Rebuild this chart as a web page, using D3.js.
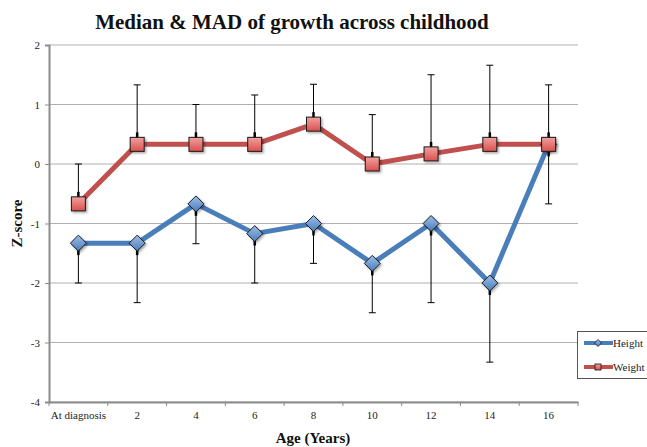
<!DOCTYPE html>
<html>
<head>
<meta charset="utf-8">
<script src="https://cdn.jsdelivr.net/npm/d3@7"></script>
<style>
html,body{margin:0;padding:0;background:#fff;}
svg{display:block;}
</style>
</head>
<body>
<svg id="chart" width="647" height="447"></svg>
<script>
const categories = ["At diagnosis","2","4","6","8","10","12","14","16"];
const heightMedian = [-1.33,-1.33,-0.67,-1.17,-1.0,-1.67,-1.0,-2.0,0.33];
const heightMAD    = [0.67,1.0,0.67,0.83,0.67,0.83,1.33,1.33,1.0];
const weightMedian = [-0.67,0.33,0.33,0.33,0.67,0.0,0.17,0.33,0.33];
const weightMAD    = [0.67,1.0,0.67,0.83,0.67,0.83,1.33,1.33,1.0];
const yTicks = [-4,-3,-2,-1,0,1,2];

const svg = d3.select("#chart");
const serif = "'Liberation Serif','DejaVu Serif',serif";
const L = 49, R = 578, T = 45, B = 402;

const x = d3.scaleBand().domain(categories).range([L, R]).padding(0);
const y = d3.scaleLinear().domain([-4, 2]).range([B, T]);
const cx = c => x(c) + x.bandwidth() / 2;

const defs = svg.append("defs");
const sh = defs.append("filter").attr("id","shadow").attr("x","-50%").attr("y","-50%").attr("width","200%").attr("height","200%");
sh.append("feDropShadow").attr("dx",1.5).attr("dy",1.5).attr("stdDeviation",1).attr("flood-color","#000").attr("flood-opacity",0.35);
const gb = defs.append("linearGradient").attr("id","gBlue").attr("x1",0).attr("y1",0).attr("x2",0).attr("y2",1);
gb.append("stop").attr("offset","0%").attr("stop-color","#9dbde6");
gb.append("stop").attr("offset","100%").attr("stop-color","#4a7ebb");
const gr = defs.append("linearGradient").attr("id","gRed").attr("x1",0).attr("y1",0).attr("x2",0).attr("y2",1);
gr.append("stop").attr("offset","0%").attr("stop-color","#f2a0a0");
gr.append("stop").attr("offset","100%").attr("stop-color","#d9504d");

// gridlines
svg.append("g").selectAll("line").data(yTicks).join("line")
  .attr("x1", L).attr("x2", R)
  .attr("y1", d => y(d)).attr("y2", d => y(d))
  .attr("stroke", "#b0b0b0").attr("stroke-width", 1);

// y axis
const yAxis = svg.append("g").attr("transform", `translate(${L},0)`)
  .call(d3.axisLeft(y).tickValues(yTicks).tickSize(4).tickPadding(5).tickFormat(d3.format("d")));
yAxis.select(".domain").attr("stroke", "#8c8c8c").attr("stroke-width", 2);
yAxis.selectAll(".tick line").attr("stroke", "#8c8c8c");
yAxis.selectAll("text").attr("font-family", serif).attr("font-size", 11).attr("fill", "#222");
yAxis.selectAll(".tick text").text(d => d < 0 ? "-" + Math.abs(d) : d);

// x axis
const xAxis = svg.append("g").attr("transform", `translate(0,${B})`)
  .call(d3.axisBottom(x).tickSize(0).tickPadding(9));
xAxis.select(".domain").attr("stroke", "#8c8c8c").attr("stroke-width", 2);
xAxis.selectAll("text").attr("font-family", serif).attr("font-size", 11).attr("fill", "#222");
// tick marks at category boundaries
const bounds = categories.map(c => x(c)).concat([R]);
svg.append("g").selectAll("line").data(bounds).join("line")
  .attr("x1", d => d).attr("x2", d => d)
  .attr("y1", B).attr("y2", B + 4)
  .attr("stroke", "#8c8c8c").attr("stroke-width", 1);

// lines
const line = d3.line().x((d, i) => cx(categories[i])).y(d => y(d));
svg.append("path").datum(heightMedian).attr("d", line)
  .attr("fill", "none").attr("stroke", "#4a7ebb").attr("stroke-width", 5).attr("stroke-linejoin", "round");
svg.append("path").datum(weightMedian).attr("d", line)
  .attr("fill", "none").attr("stroke", "#c0504d").attr("stroke-width", 5).attr("stroke-linejoin", "round");

// error bars: height minus, weight plus
function errBars(med, mad, sign) {
  const g = svg.append("g");
  categories.forEach((c, i) => {
    const xx = cx(c), y0 = y(med[i]), y1 = y(med[i] + sign * mad[i]);
    g.append("line").attr("x1", xx).attr("x2", xx).attr("y1", y0).attr("y2", y1)
      .attr("stroke", "#000").attr("stroke-width", 1);
    g.append("line").attr("x1", xx).attr("x2", xx).attr("y1", y0).attr("y2", y0 + sign * -12)
      .attr("stroke", "#000").attr("stroke-width", 2.5);
    g.append("line").attr("x1", xx - 3.5).attr("x2", xx + 3.5).attr("y1", y1).attr("y2", y1)
      .attr("stroke", "#000").attr("stroke-width", 1);
  });
}
errBars(heightMedian, heightMAD, -1);
errBars(weightMedian, weightMAD, 1);

// markers
svg.append("g").selectAll("path").data(heightMedian).join("path")
  .attr("transform", (d, i) => `translate(${cx(categories[i])},${y(d)})`)
  .attr("d", "M0,-8L8,0L0,8L-8,0Z")
  .attr("fill", "url(#gBlue)").attr("stroke", "#1a1a1a").attr("stroke-width", 1)
  .attr("filter", "url(#shadow)");
svg.append("g").selectAll("rect").data(weightMedian).join("rect")
  .attr("x", (d, i) => cx(categories[i]) - 7).attr("y", d => y(d) - 7)
  .attr("width", 14).attr("height", 14)
  .attr("fill", "url(#gRed)").attr("stroke", "#1a1a1a").attr("stroke-width", 1)
  .attr("filter", "url(#shadow)");

// title
svg.append("text").attr("x", 292).attr("y", 29).attr("text-anchor", "middle")
  .attr("font-family", serif).attr("font-size", 21).attr("font-weight", "bold").attr("fill", "#111")
  .text("Median & MAD of growth across childhood");
// axis titles
svg.append("text").attr("transform", `translate(22,${(T + B) / 2}) rotate(-90)`)
  .attr("text-anchor", "middle").attr("font-family", serif).attr("font-size", 15).attr("font-weight", "bold").attr("fill", "#111")
  .text("Z-score");
svg.append("text").attr("x", 313).attr("y", 443).attr("text-anchor", "middle")
  .attr("font-family", serif).attr("font-size", 15).attr("font-weight", "bold").attr("fill", "#111")
  .text("Age (Years)");

// legend
const lg = svg.append("g");
lg.append("rect").attr("x", 577.5).attr("y", 331.5).attr("width", 80).attr("height", 47)
  .attr("fill", "#fff").attr("stroke", "#555").attr("stroke-width", 1);
const legendItems = [
  {name: "Height", color: "#4a7ebb", fill: "url(#gBlue)", shape: "diamond"},
  {name: "Weight", color: "#c0504d", fill: "url(#gRed)", shape: "square"}
];
legendItems.forEach((it, i) => {
  const yy = 343 + i * 24;
  lg.append("line").attr("x1", 584).attr("x2", 613).attr("y1", yy).attr("y2", yy)
    .attr("stroke", it.color).attr("stroke-width", 4);
  if (it.shape === "diamond") {
    lg.append("path").attr("transform", `translate(598,${yy})`).attr("d", "M0,-3.5L3.5,0L0,3.5L-3.5,0Z")
      .attr("fill", it.fill).attr("stroke", "#111").attr("stroke-width", 0.8);
  } else {
    lg.append("rect").attr("x", 595).attr("y", yy - 3).attr("width", 6).attr("height", 6)
      .attr("fill", it.fill).attr("stroke", "#111").attr("stroke-width", 0.8);
  }
  lg.append("text").attr("x", 613).attr("y", yy + 4).attr("font-family", serif).attr("font-size", 11).attr("fill", "#222")
    .text(it.name);
});
</script>
</body>
</html>
